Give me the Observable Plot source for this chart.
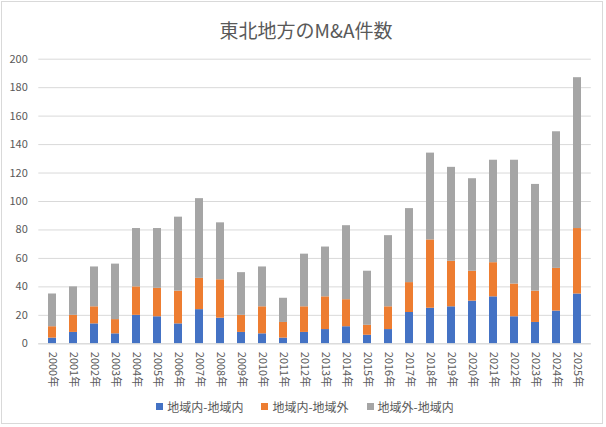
<!DOCTYPE html>
<html><head><meta charset="utf-8">
<script src="https://cdn.jsdelivr.net/npm/d3@7"></script>
<script src="https://cdn.jsdelivr.net/npm/@observablehq/plot@0.6"></script>
<style>
body{margin:0;background:#fff;}
#wrap{position:relative;width:606px;height:427px;overflow:hidden;font-family:"Noto Sans CJK JP","Noto Sans",sans-serif;color:#595959;background:#fff;}
#frame{position:absolute;left:1px;top:1px;width:602px;height:423px;border:1px solid #d9d9d9;box-sizing:border-box;pointer-events:none;}
#title{height:48px;line-height:60px;text-align:center;font-size:19px;color:#595959;padding-left:6px;}
#chart svg{display:block;}
#legend{position:absolute;top:398px;left:0;width:606px;display:flex;justify-content:center;font-size:12px;color:#595959;padding-left:2px;}
.item{display:flex;align-items:center;margin:0 9px;}
.sw{width:7px;height:7px;margin-right:4px;}
</style>
</head><body>
<div id="wrap">
  <div id="title">東北地方のM&amp;A件数</div>
  <div id="chart"></div>
  <div id="legend"></div>
  <div id="frame"></div>
</div>
<script>
const years = ["2000年","2001年","2002年","2003年","2004年","2005年","2006年","2007年","2008年","2009年","2010年","2011年","2012年","2013年","2014年","2015年","2016年","2017年","2018年","2019年","2020年","2021年","2022年","2023年","2024年","2025年"];
const seriesNames = ["地域内-地域内","地域内-地域外","地域外-地域内"];
const seriesColors = ["#4472C4","#ED7D31","#A5A5A5"];
const inIn   = [4,8,14,7,20,19,14,24,18,8,7,4,8,10,12,6,10,22,25,26,30,33,19,15,23,35];
const inOut  = [8,12,12,10,20,20,23,22,27,12,19,11,18,23,19,7,16,21,48,32,21,24,23,22,30,46];
const outIn  = [23,20,28,39,41,42,52,56,40,30,28,17,37,35,52,38,50,52,61,66,65,72,87,75,96,106];
const yTicks = [0,20,40,60,80,100,120,140,160,180,200];

const seriesValues = [inIn, inOut, outIn];
const data = [];
years.forEach((yr, i) => {
  seriesNames.forEach((s, j) => data.push({year: yr, series: s, value: seriesValues[j][i]}));
});

const chart = Plot.plot({
  width: 606,
  height: 340,
  marginTop: 10.7,
  marginBottom: 44.7,
  marginLeft: 38.3,
  marginRight: 15.2,
  style: {fontFamily: '"Noto Sans CJK JP","Noto Sans",sans-serif', fontSize: "11px", color: "#595959", background: "transparent"},
  x: {domain: years, paddingInner: 0.6, paddingOuter: 0.3, label: null},
  y: {domain: [0, 200], label: null},
  color: {domain: seriesNames, range: seriesColors},
  marks: [
    Plot.gridY(yTicks, {stroke: "#d9d9d9", strokeOpacity: 1, strokeWidth: 1}),
    Plot.barY(data, {x: "year", y: "value", fill: "series", order: seriesNames}),
    Plot.ruleY([0], {stroke: "#d9d9d9", strokeWidth: 1}),
    Plot.axisY(yTicks, {tickSize: 0, tickPadding: 11, fontSize: 11, label: null}),
    Plot.axisX({tickRotate: 90, tickSize: 0, tickPadding: 8, fontSize: 11, label: null})
  ]
});
document.getElementById("chart").appendChild(chart);

const legend = document.getElementById("legend");
seriesNames.forEach((s, i) => {
  const it = document.createElement("div");
  it.className = "item";
  const sw = document.createElement("span");
  sw.className = "sw";
  sw.style.background = seriesColors[i];
  const tx = document.createElement("span");
  tx.textContent = s;
  it.appendChild(sw); it.appendChild(tx);
  legend.appendChild(it);
});
</script>
</body></html>
